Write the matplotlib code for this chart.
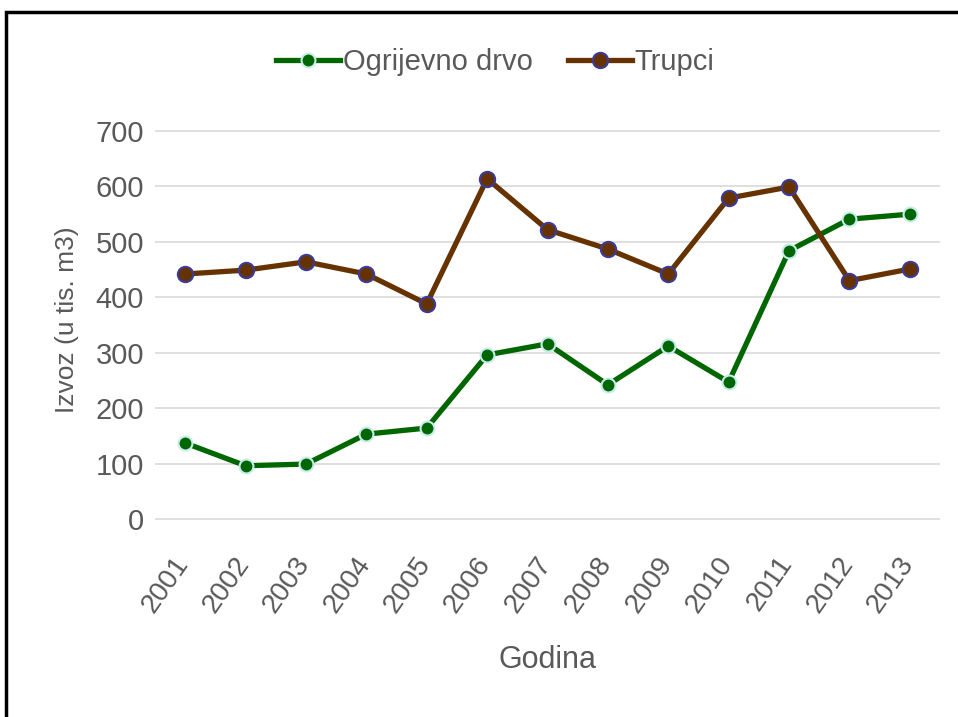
import matplotlib
matplotlib.use("Agg")
import matplotlib.pyplot as plt
import matplotlib.transforms as mtransforms
from matplotlib import font_manager as fm
from matplotlib.patches import Rectangle

years = ["2001", "2002", "2003", "2004", "2005", "2006", "2007",
         "2008", "2009", "2010", "2011", "2012", "2013"]
ogrijevno = [137, 96, 99, 153, 164, 296, 316, 242, 312, 247, 484, 541, 550]
trupci = [442, 449, 464, 442, 388, 614, 522, 487, 442, 579, 599, 430, 451]
yticks = [0, 100, 200, 300, 400, 500, 600, 700]

names = {f.name for f in fm.fontManager.ttflist}
fam = "Liberation Sans Narrow" if "Liberation Sans Narrow" in names else "Liberation Sans"
plt.rcParams["font.family"] = [fam, "DejaVu Sans"]

grey = "#595959"
fig = plt.figure(figsize=(9.58, 7.17), dpi=100)
ax = fig.add_axes([155/958, 1 - 535/717, (940-155)/958, (535-105)/717])

x = list(range(len(years)))
ax.plot(x, ogrijevno, color="#006600", lw=3.8, marker="o", ms=10,
        mfc="#006600", mec="#c5ecea", mew=1.5, label="Ogrijevno drvo", zorder=3)
ax.plot(x, trupci, color="#663300", lw=3.8, marker="o", ms=11,
        mfc="#663300", mec="#3b3b9c", mew=1.5, label="Trupci", zorder=3)

ax.set_xlim(-0.5, len(years) - 0.5)
ax.set_ylim(-29, 747)
ax.tick_params(axis="both", length=0, pad=8)
ax.tick_params(axis="x", pad=12)
ax.set_yticks(yticks)
ax.set_yticklabels([str(v) for v in yticks], fontsize=21, color=grey)
ax.set_xticks(x)
ax.set_xticklabels(years, rotation=55, ha="right", va="top", rotation_mode="anchor",
                   fontsize=20, color=grey)
offset = mtransforms.ScaledTranslation(-12/100, 0, fig.dpi_scale_trans)
for lbl in ax.get_xticklabels():
    lbl.set_transform(lbl.get_transform() + offset)
ax.grid(axis="y", color="#d9d9d9", lw=1.2)
ax.set_axisbelow(True)
for s in ax.spines.values():
    s.set_visible(False)

ax.set_ylabel("Izvoz (u tis. m3)", fontsize=19, color=grey, labelpad=12)
ax.set_xlabel("Godina", fontsize=22, color=grey, labelpad=20)

leg = fig.legend(loc="center", bbox_to_anchor=(495/958, 1 - 62/717), ncol=2,
                 frameon=False, fontsize=21, handlelength=2.2, columnspacing=1.2,
                 handletextpad=0.1, labelcolor=grey)

fig.patches.append(Rectangle((6/958, -0.1), 1.1, 1 - 12/717 + 0.1, transform=fig.transFigure,
                             fill=False, ec="black", lw=2.5))
fig.savefig("out.png", dpi=100, facecolor="white")
